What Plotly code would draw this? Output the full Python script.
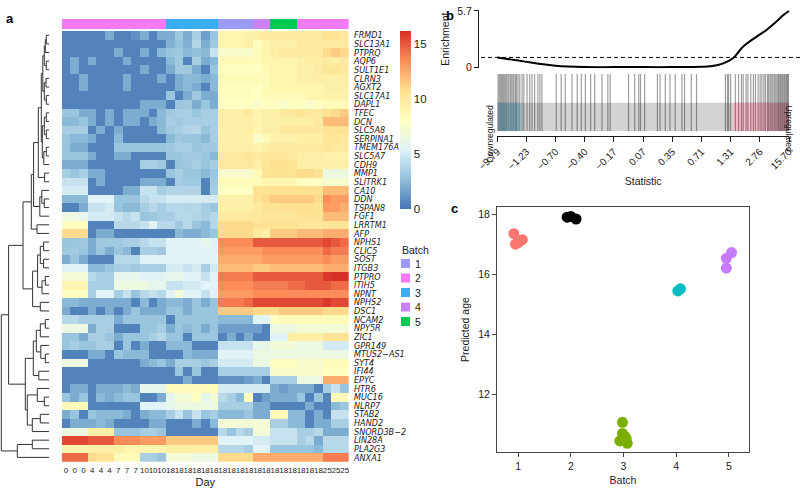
import plotly.graph_objects as go

# ---------------- data ----------------
genes = ['FRMD1', 'SLC13A1', 'PTPRQ', 'AQP6', 'SULT1E1', 'CLRN3', 'AGXT2', 'SLC17A1', 'DAPL1',
         'TFEC', 'DCN', 'SLC5A8', 'SERPINA1', 'TMEM176A', 'SLC5A7', 'CDH9', 'MMP1', 'SLITRK1',
         'CA10', 'DDN', 'TSPAN8', 'FGF1', 'LRRTM1', 'AFP', 'NPHS1', 'CLIC5', 'SOST', 'ITGB3',
         'PTPRO', 'ITIH5', 'NPNT', 'NPHS2', 'DSC1', 'NCAM2', 'NPY5R', 'ZIC1', 'GPR149',
         'MTUS2−AS1', 'SYT4', 'IFI44', 'EPYC', 'HTR6', 'MUC16', 'NLRP7', 'STAB2', 'HAND2',
         'SNORD3B−2', 'LIN28A', 'PLA2G3', 'ANXA1']

days = [0, 0, 0, 4, 4, 4, 7, 7, 7, 10, 10, 10, 18, 18, 18, 18, 18, 18,
        18, 18, 18, 18, 18, 18, 18, 18, 18, 18, 18, 18, 25, 25, 25]
col_batch = [2] * 12 + [3] * 6 + [1] * 4 + [4] * 2 + [5] * 3 + [2] * 6

expr = [
    [.5, .5, .5, .5, .5, 2, .5, .5, 1, 2, .5, 2, 2, 3.2, 2, 3.5, 1.5, 3, 9, 9, 9, 9.5, 9.5, 9.8, 9.8, 9.8, 10, 10, 10, 10, 10.5, 10.5, 10],
    [.5] * 12 + [2.2, 2.8, 2.2, 3.8, 2, 3.2, 9, 9, 9, 9.5, 8.3, 9, 9.5, 9.5, 9.5, 10, 10, 10, 10, 10, 10],
    [.5, .5, .5, .5, .5, .5, 2, .5, .5, 2, .5, 2.5, 3, 3.2, 2.5, 2.8, 2.5, 4.5, 7.5, 7.5, 7.5, 7.5, 8.5, 9, 9.5, 10, 10, 10, 10, 10, 11, 11.5, 11],
    [.5, 2, .5, 2, .5, .5, .5, 2, .5, .5, .5, .5, 2.5, 3.2, .5, 3.5, 2, 2.5, 8.5, 8.5, 8.5, 8.5, 8.5, 9, 9, 9, 9, 9.5, 9.5, 9.5, 9.8, 9.5, 10],
    [.5, 2, .5, .5, .5, .5, .5, .5, .5, 2, .5, .5, 2, 3.2, 3.2, 2, .5, 3, 8, 8, 8, 8, 7.8, 8.5, 9, 9, 9, 9.5, 9.5, 9.8, 10.3, 10.3, 10],
    [.5, .5, 2, .5, .5, .5, .5, 2, .5, .5, .5, 2, .5, 2, 2.5, 2.5, 2, 2.5, 8.5, 8.5, 8.5, 8.5, 8.5, 8.5, 9, 9, 9, 9.5, 9.5, 9.5, 9.5, 9.5, 9.5],
    [.5, .5, 2, .5, .5, .5, .5, 2, .5, .5, .5, .5, .5, 2, 2.5, 2, .5, 2.5, 8.3, 8.3, 8.3, 8.3, 8, 8.5, 9, 9, 9, 9, 9, 9, 9.5, 9.5, 9.5],
    [.5] * 12 + [3, .5, 2, 3.2, 2, 2, 8.3, 8.3, 8.3, 8.3, 8, 8.5, 8.5, 8.5, 8.5, 8.5, 9, 9, 9.3, 9.3, 9.3],
    [.5] * 9 + [2, 2, 2, .5, 3, 3.2, 2, 3, 2, 8, 8, 8, 8, 7.5, 8, 8, 7.5, 8, 8, 7.5, 8, 8.5, 8.5, 8.5],
    [3, 3, 2, 2, .5, 2, .5, 2, 2, 2, .5, 2.5, 3.2, 3.5, 3.5, 3, 3.5, 3.5, 9.5, 9.5, 9.5, 10, 9, 9.5, 9.5, 10, 10, 10.5, 10, 10, 10.5, 11, 11.5],
    [2.5, 2.5, 3, 2, .5, 2, .5, 2, 2, .5, 2, 2.5, 3.5, 3.2, 3.5, 3.5, 3.5, 3.5, 9.5, 9.5, 9.5, 9.5, 9, 9.5, 9.5, 9.5, 9.5, 9.5, 9.5, 10, 12, 12, 12],
    [3.5, 3.5, 3.5, .5, 2, .5, 2, .5, .5, .5, .5, 2.5, 3.2, 3.5, 3.8, 4, 3, 3.5, 9.5, 9.5, 9.5, 9.5, 9, 9.5, 9.5, 10, 10, 10, 10, 10, 10.5, 10.5, 10.5],
    [3, 2.5, 2.5, 2, .5, .5, 2.5, .5, .5, .5, .5, .5, 2.5, 3.2, 3, 3, 2.5, 3.5, 9.3, 9.3, 9.3, 9.3, 7.5, 8.5, 9.3, 9.3, 9.3, 9.5, 9.5, 9.5, 10.3, 10.3, 10],
    [3, 2, 2, .5, .5, .5, 3, 3, 3, 3, 3, 3, 3.2, 3.5, 3.5, 3, 3.2, 3.2, 9.5, 9.5, 9.5, 9.5, 9, 9.5, 9.8, 9.8, 9.8, 10, 10, 10, 10.3, 10, 10],
    [3, 3, 3, 2, .5, .5, 2, 2, .5, .5, .5, .5, 3, 3, 3.3, 3.3, 3, 2.5, 10, 10, 10, 10.3, 10, 10.3, 10.3, 10.3, 10, 9.5, 9.5, 9.5, 9.3, 9.3, 9.3],
    [2, 2, 2, .5, .5, .5, .5, .5, .5, 3.5, 3.5, 3.2, .5, 3, 3.2, 3.5, 3, 3.5, 10, 10, 10, 10, 9.5, 10.3, 10.8, 10.8, 10.5, 9.5, 9.5, 9.5, 9.5, 9.5, 9.5],
    [3.5, 3, 3.5, 2, 2, .5, .5, .5, .5, .5, .5, .5, 3, 3.5, 3, 3, 2.5, 3, 7.5, 7.5, 7.5, 7.5, 8.5, 10.5, 10.5, 10.5, 10.5, 11, 11, 10.5, 6.5, 6.5, 6.5],
    [4.5, 4.5, 4.5, .5, 2, .5, .5, .5, .5, 2, 2, 2, .5, 3.5, 3.2, 3.2, .5, 3.2, 8.5, 8.5, 8.5, 8.5, 8.5, 9, 9, 9, 9, 8, 8, 8, 7.5, 7.5, 7.5],
    [5, 5, 5, .5, .5, .5, .5, 2, 2, 4.5, 4.5, 3.5, 3.8, 3.8, 3.8, 3.8, .5, 3.5, 8, 8, 8, 8, 10.5, 10.5, 10.8, 10.8, 10.8, 10.8, 10.8, 10.8, 12, 12, 12],
    [2.5, 2.5, 2.5, 5.5, 5.5, 5.5, 3, 3, 3, 4, 4.5, 4.5, 5, 5, 5, 5, 5, 5, 9.5, 9.5, 9.5, 9.5, 10.5, 11, 11.5, 11.5, 11.5, 11.5, 11.5, 11, 13.5, 13, 13],
    [.5, .5, 2, 4.5, 4.5, 5, 3, 2.5, 2.5, 3.5, 4, 3.5, 4, 4, 3.8, 4, 3.5, 3, 9.5, 9.5, 9.5, 9.5, 10, 10.5, 10.5, 10.8, 10.8, 10.8, 10.8, 10.5, 13, 13, 12.5],
    [6.5, 6.5, 6, 5, 5, 5, 4.5, 4, 4.5, 3, 3.2, 3.5, 3.5, 4, 4, 3.8, 3.5, 4, 10, 10, 10, 10, 10, 10.3, 10.3, 10.3, 10.3, 10.5, 10.5, 10.5, 12, 12, 12],
    [8, 8, 8, .5, .5, .5, 4, 4, 4, 4.5, 5.5, 4, 4, 3.2, 4, 3, 2.5, 4, 11, 11, 11, 11, 10.5, 10.5, 10.5, 10.5, 10.5, 10.3, 10.3, 10.3, 10.3, 10.3, 10.3],
    [11, 11, 11, .5, 2, 2, .5, .5, .5, .5, .5, .5, .5, 2.5, 2, 2, 2.5, 3, 11, 11, 11, 11, 10, 9.5, 11.5, 11.5, 11.5, 12, 12, 12, 12.5, 12.5, 12.5],
    [3, 3, 3.2, 2, 3.2, 3.2, 3.2, 3.5, 3.5, 4, 4.5, 4.5, 5.5, 5.5, 5.5, 5.5, 6, 5.5, 13.5, 13.5, 13.5, 13.5, 15, 15, 15, 15, 15, 15, 15, 15, 15.5, 15, 14.5],
    [3.2, 3.2, 3, 2, 3, 2, 3, 2.5, .5, 3.5, 3.5, 3.2, 5.5, 5.5, 5.5, 5.5, 5.5, 5.5, 13, 13, 13, 13, 13, 13.5, 13.5, 13.5, 13.5, 13.5, 13.5, 13.5, 14.5, 14, 14],
    [2, 3, 2, .5, .5, .5, 4, 4, 4, 5.5, 5.5, 5.5, 5.5, 5.5, 5.5, 5.5, 5.5, 5.5, 12.5, 12.5, 12.5, 12.5, 12.5, 13, 13, 13, 13, 13, 13, 13, 13.5, 13, 13],
    [5.5, 5.5, 5.5, 2.5, 2.5, 3, 3.5, 3.5, 3.2, 3.5, 3.5, 3.5, 5, 5, 4.5, 5, 3.5, 5, 12, 12, 12, 12, 11.5, 11.5, 12, 12, 12, 12, 12, 12, 12.5, 12.5, 12.5],
    [7, 7, 7, 4, 3.5, 3.5, 6, 6, 6, 5.5, 5.5, 5.5, 6, 6, 5.5, 5.5, 4.5, 5.5, 14, 14, 14, 14, 15, 15, 15, 15, 15, 15, 15, 15, 16, 16.2, 16.2],
    [9, 9, 9, 3.5, 3.5, 3.5, 6.5, 6.5, 6.5, 6.5, 6, 6, 4.5, 4.5, 5, 5, 5.5, 5.5, 13.5, 13.5, 13.5, 13.5, 14, 14, 14, 14, 14.5, 14.5, 15, 15, 15, 14.5, 14.5],
    [8, 8, 8, 3.5, 5.5, 5.5, 3.5, 4.5, 3, 4, 4.5, 4, 5.5, 7, 5.5, 5.5, 4.5, 5.5, 13, 13, 13, 13, 13.5, 13.5, 13.5, 13.5, 13.5, 13.5, 13.5, 13.5, 13.5, 13.5, 13.5],
    [2.5, 2.5, 2, 2, 2, 2, 2, 2, .5, 2.5, .5, 2, 2.5, 2.5, 2, 3, 2, 3, 14, 14, 14, 14.5, 15.5, 15.5, 15.5, 15.5, 15.5, 15.5, 15.5, 15.5, 16, 15.5, 15.5],
    [2, .5, .5, 2, .5, 2, .5, 2, 3, 2, 2, 2, 3, 3, 2, 3, 3, 3, 11.5, 11.5, 11.5, 11.5, 11, 11, 11, 11.5, 11.5, 11.5, 11.5, 11.5, 11, 11, 11],
    [4, 4, 3.5, 3.5, 3.5, 3.5, 2, 3, 3, 3, 3, 3, .5, 3, 3, 3, 3, 3, 2.5, 2.5, 2.5, 2.5, 5.5, 5.5, 8, 8.5, 8.5, 8.5, 8.5, 8.5, 8.5, 8.5, 8.5],
    [6.5, 6.5, 6.5, 2, 3.5, 3.5, .5, .5, .5, 3, 3, 3.5, 2, 3, 2.5, 3, 2, 3, 1.5, 1.5, 1.5, 1.5, 1.5, .5, 6.5, 6.5, 6.5, 7, 7, 7, 7, 7, 7],
    [3, 3, 2, 3.5, 3.5, 3, 2, 3, 3, 3, 3.5, 4, 3, 3, .5, 3, 3, 3, .5, 2, .5, 2, .5, .5, 5.5, 5.5, 9.5, 9.5, 9.5, 9.5, 10.5, 10.5, 10.5],
    [3, 3.5, 3, 3, 3.5, 3.5, .5, 3, .5, 2, .5, .5, 2.5, 2.5, 2.5, .5, .5, .5, 4.5, 4.5, 4.5, 4.5, 6, 6, 7, 7, 7, 6.5, 6.5, 6.5, 5, 5, 5],
    [.5, .5, .5, 2, 2, .5, 3, 2.5, 2.5, 2.5, .5, .5, .5, .5, 2.5, 2, 2, 2, 5.5, 5.5, 5.5, 5.5, 6.5, 6.5, 6.5, 6.5, 6.5, 6.5, 6.5, 6.5, 6.5, 6.5, 6.5],
    [6.5, 6.5, 6.5, .5, .5, .5, .5, .5, .5, 2, 2.5, 3, 2, 3.5, 3.5, 3.5, 3, 3.5, 5, 5, 5, 5, 6.5, 6.5, 8, 8, 8, 7.5, 7.5, 7.5, 8.5, 8.5, 8.5],
    [.5] * 12 + [.5, 3, .5, 3, .5, .5, 3.5, 3.5, 3.5, 3.5, 3.5, 3.5, 7.5, 7.5, 7.5, 7.5, 7.5, 7.5, 8, 8, 8],
    [.5] * 12 + [.5, .5, 2, .5, .5, .5, 1, 1, 1, 1.5, 2, .5, 3.5, 3.5, 3.5, 6.5, 6.5, 6.5, 12.5, 12.5, 12.5],
    [.5, 2, 2, .5, 2, 2, 2, 2.5, 2, 6, 6, 6, 8.5, 8.5, 8.5, 8.5, 8.5, 8.5, 5, 5, 5, 5, 5, 5, 2, 1.5, 2, 2, 2, .5, 3.5, 4.5, 3],
    [3, 2, 3, .5, 2.5, 2, 2.5, 3, 3, .5, .5, 2, 6, 7, 7, 8, 6, 7, 4, 3.5, 2.5, 8, .5, 1.5, 2, 2, 2, 3, .5, 3, .5, 8.5, 8.5],
    [8.5, 8.5, 8.5, .5, .5, .5, .5, .5, .5, 5.5, 5.5, 5.5, 6, 6.5, 6.5, 6.5, 6.5, 6.5, 3.5, 3.5, 3.5, 3.5, 2, 2, .5, .5, .5, .5, 2, .5, .5, 2.5, 3],
    [2, 3, .5, 3, 2.5, 2.5, 2.5, 2, .5, 2, 2.5, 2.5, 3.5, 4.5, 3, 4.5, 3, 3.5, 2.5, 2.5, 2.5, 3, 2, 2, 8.5, 8.5, 2.5, 2.5, .5, 2, .5, 4.5, 4.5],
    [.5, 2, 2, 2, 2.5, 2, .5, .5, .5, .5, 2, 2, .5, .5, .5, 2, .5, 2.5, 7, 7, 7, 7, 7, 7, 3.5, 3.5, 2.5, 2.5, .5, 2, 2, 3.5, 3.5],
    [6.5, 6.5, 6.5, 9.5, 9.5, 9.5, 3, 3, 3, 3.5, 3.5, 3, .5, .5, .5, .5, .5, .5, 4, 3, 4, 3.5, 7, 7, 4.5, 4.5, 4.5, 3.5, 3.5, 4, 2, 2, 2],
    [15.5, 15.5, 15.5, 15, 15, 15, 13.5, 13.5, 13.5, 13, 13, 13, 11.5, 11.5, 11.5, 11.5, 11.5, 11.5, 5.5, 5.5, 5.5, 5.5, 5, 5, 4.5, 4.5, 4.5, 3.5, 4, 2, 4, 4, 4],
    [9, 9, 9, 9.5, 9.5, 9.5, 9.5, 9, 9, 9, 9, 9, 9.5, 9.5, 9.5, 9.5, 9.5, 9.5, 4, 4, 4, 3.5, 5.5, 5.5, 3, 3, 3, 3, 3, 2.5, 4, 4, 4],
    [14.5, 14.5, 14.5, 11, 10.5, 10.5, 8.5, 8.5, 8.5, 3.5, 3.5, 3, 7, 7, 7, 6.5, 6.5, 6.5, 11, 11, 11, 11, 12.5, 12.5, 12.5, 12.5, 12.5, 12.5, 12.5, 12.5, 14, 14, 14],
]

# row dendrogram: [height, left, right], leaves are row indices
t0_4 = [5, [4, [3, 0, 1], 2], [3, 3, 4]]
t5_8 = [5, [3.3, 5, 6], [3, 7, 8]]
t9_15 = [7, [5, [3, 9, 10], [3, 11, 12]], [5.5, [3, 13, 14], 15]]
t0_17 = [11, [8, [6.5, t0_4, t5_8], t9_15], [4.7, 16, 17]]
t0_23 = [18, [15.7, t0_17, [9.5, [7.5, 18, [5, 19, 20]], 21]], [12.3, 22, 23]]
t24_32 = [16.7, [11.7, [9, [5.7, 24, 25], [5.7, 26, 27]], [7.3, [4, 28, 29], 30]], [9, 31, 32]]
t33_40 = [16, [13, [9, [4, 33, 34], 35], [8.5, 36, [4, 37, 38]]], [10.5, 39, 40]]
t41_46 = [22, [12, 41, [5, 42, 43]], [17, [9, 44, 45], 46]]
row_tree = [48, [40.7, [26.3, t0_23, t24_32], [24, t33_40, t41_46]], [32, [17, 47, 48], 49]]

batches = [1, 2, 3, 4, 5]
batch_colors = ['#9C9CF6', '#F57BF5', '#38AEF7', '#C983F2', '#00C853']

# panel b: barcode / enrichment (x in decile units of the ranked statistic)
stat_ticks = ['−9.79', '−1.23', '−0.70', '−0.40', '−0.17', '0.07', '0.35', '0.71', '1.31', '2.76', '15.70']
worm_x = [0, 0.9, 2.0, 3.0, 4, 5, 6, 7, 7.3, 7.7, 8.08, 8.43, 8.89, 9.24, 9.58, 9.81, 10.0]
worm_y = [1.0, 0.6, 0.17, 0.03, 0.02, 0.02, 0.02, 0.05, 0.1, 0.35, 0.92, 2.1, 3.1, 3.8, 4.65, 5.3, 5.7]
set_ranks = [0.02, 0.06, 0.10, 0.14, 0.18, 0.22, 0.26, 0.30, 0.34, 0.39, 0.44, 0.48, 0.53, 0.57, 0.62,
             0.66, 0.71, 0.77, 0.85, 0.91, 1.02, 1.11, 1.19, 1.28, 1.39, 1.46, 1.53, 2.02, 2.19, 2.33,
             2.56, 2.74, 2.88, 3.02, 3.20, 3.34, 3.59, 3.79, 3.87, 4.50, 4.71, 4.85, 4.91, 5.05, 5.49,
             5.58, 5.76, 5.92, 6.10, 6.33, 6.42, 6.65, 6.83, 7.82, 7.89, 7.93, 8.0, 8.16, 8.27, 8.37,
             8.43, 8.53, 8.59, 8.69, 8.78, 8.85, 8.94, 9.01, 9.07, 9.14, 9.19, 9.26, 9.30, 9.35, 9.39,
             9.44, 9.49, 9.53, 9.58, 9.62, 9.65, 9.69, 9.72, 9.76, 9.79, 9.83, 9.86, 9.90, 9.93, 9.96, 9.99]
down_q = 0.82
up_q = 8.08

# panel c: predicted age per batch
age_batch = [1, 1, 1, 1, 2, 2, 2, 3, 3, 3, 3, 3, 3, 4, 4, 5, 5, 5]
age_jitter = [0.92, 1.08, 0.95, 1.0, 1.93, 2.0, 2.1, 2.98, 2.98, 3.05, 2.93, 3.07, 3.02, 4.03, 4.08, 4.95, 4.95, 5.05]
age_pred = [17.35, 17.15, 17.0, 17.05, 17.9, 17.92, 17.84, 11.06, 10.69, 10.52, 10.44, 10.36, 10.6, 15.44, 15.51, 16.2, 16.53, 16.72]
age_colors = ['#F8766D', '#000000', '#7CAE00', '#00BFC4', '#C77CFF']

# ---------------- figure ----------------
W, H = 800, 488
FONT = 'Liberation Sans, Arial, sans-serif'
INK = '#1a1a1a'


def px_x(p):
    return p / W


def px_y(p):
    return 1 - p / H


rdylbu = ['#4575B4', '#91BFDB', '#E0F3F8', '#FFFFBF', '#FEE090', '#FC8D59', '#D73027']
cscale = [[i / 6, c] for i, c in enumerate(rdylbu)]

fig = go.Figure()

fig.add_trace(go.Heatmap(
    z=expr, x=list(range(len(days))), y=list(range(len(genes))),
    colorscale=cscale, zmin=0, zmax=16.2, xaxis='x', yaxis='y',
    colorbar=dict(x=px_x(399.5), xanchor='left', xpad=0, y=px_y(31), yanchor='top', ypad=0,
                  len=178 / H, lenmode='fraction', thickness=11, outlinewidth=0,
                  tickvals=[0, 5, 10, 15], ticks='', tickfont=dict(size=11.5, color=INK, family=FONT)),
    hoverinfo='skip'))

# batch annotation bar
bscale = []
for i, c in enumerate(batch_colors):
    bscale += [[i / 5, c], [(i + 1) / 5, c]]
fig.add_trace(go.Heatmap(z=[col_batch], x=list(range(len(days))), y=[0], colorscale=bscale,
                         zmin=0.5, zmax=5.5, showscale=False, xaxis='x3', yaxis='y3', hoverinfo='skip'))


# dendrogram segments from the tree
def walk(node, xs, ys):
    if isinstance(node, int):
        return float(node), 0.0
    h, left, right = node
    yl, hl = walk(left, xs, ys)
    yr, hr = walk(right, xs, ys)
    xs += [hl, h, h, hr, None]
    ys += [yl, yl, yr, yr, None]
    return (yl + yr) / 2, h


dx, dy = [], []
walk(row_tree, dx, dy)
fig.add_trace(go.Scatter(x=dx, y=dy, mode='lines', line=dict(color='#333333', width=1),
                         xaxis='x2', yaxis='y', showlegend=False, hoverinfo='skip'))

# enrichment worm
fig.add_trace(go.Scatter(x=worm_x, y=worm_y, mode='lines', line=dict(color='black', width=2, shape='spline'),
                         xaxis='x4', yaxis='y4', showlegend=False, hoverinfo='skip'))
fig.add_shape(type='line', xref='x4 domain', yref='y4', x0=0, x1=1, y0=1, y1=1,
              line=dict(color='black', width=1, dash='4px,3px'))

# barcode background and bars
fig.add_shape(type='rect', xref='x5', yref='y5', x0=0, x1=10, y0=0, y1=0.5,
              fillcolor='#D3D3D3', line_width=0, layer='below')
fig.add_shape(type='rect', xref='x5', yref='y5', x0=0, x1=down_q, y0=0, y1=0.5,
              fillcolor='#A9D9EA', line_width=0, layer='below')
fig.add_shape(type='rect', xref='x5', yref='y5', x0=up_q, x1=10, y0=0, y1=0.5,
              fillcolor='#F8B8C8', line_width=0, layer='below')
for r in set_ranks:
    fig.add_shape(type='line', xref='x5', yref='y5', x0=r, x1=r, y0=0, y1=1,
                  line=dict(color='rgba(0,0,0,0.38)', width=1.2))
fig.add_trace(go.Scatter(x=[0, 10], y=[0, 0], mode='markers', marker=dict(opacity=0),
                         xaxis='x5', yaxis='y5', showlegend=False, hoverinfo='skip'))

# predicted age scatter
for b, col in zip(batches, age_colors):
    xs = [j for j, bb in zip(age_jitter, age_batch) if bb == b]
    ys = [a for a, bb in zip(age_pred, age_batch) if bb == b]
    fig.add_trace(go.Scatter(x=xs, y=ys, mode='markers', marker=dict(color=col, size=11, line_width=0),
                             xaxis='x6', yaxis='y6', showlegend=False, hoverinfo='skip'))

tickf = dict(family=FONT, size=10.5, color=INK)
hidden = dict(visible=False, showgrid=False, zeroline=False, automargin=False)

fig.update_layout(
    width=W, height=H, margin=dict(l=0, r=0, t=0, b=0, autoexpand=False),
    paper_bgcolor='white', plot_bgcolor='white',
    font=dict(family=FONT, color=INK),
    xaxis=dict(domain=[px_x(61.7), px_x(349)], range=[-0.5, 32.5], anchor='y', automargin=False,
               tickvals=list(range(len(days))), ticktext=[str(d) for d in days],
               tickangle=0, tickfont=dict(family=FONT, size=8, color=INK), ticks='', ticklabelstandoff=2,
               showgrid=False, zeroline=False,
               title=dict(text='Day', font=dict(family=FONT, size=11, color=INK), standoff=4)),
    yaxis=dict(domain=[px_y(461.7), px_y(31)], range=[len(genes) - 0.5, -0.5], anchor='x', side='right',
               tickvals=list(range(len(genes))), ticktext=['<i>%s</i>' % g for g in genes],
               tickfont=dict(family='Liberation Sans Narrow, DejaVu Sans Condensed, sans-serif', size=9, color=INK),
               ticks='', ticklabelstandoff=4, showgrid=False, zeroline=False, automargin=False),
    xaxis2=dict(domain=[0, px_x(49.3)], range=[49.3, 0], anchor='y', **hidden),
    xaxis3=dict(domain=[px_x(61.7), px_x(349)], range=[-0.5, 32.5], anchor='y3', **hidden),
    yaxis3=dict(domain=[px_y(29), px_y(19)], range=[-0.5, 0.5], anchor='x3', **hidden),
    xaxis4=dict(domain=[px_x(481), 1], range=[-0.559, 10.377], anchor='y4', **hidden),
    yaxis4=dict(domain=[px_y(68.3), px_y(10)], range=[-0.1, 5.8], anchor='free', position=px_x(478),
                tickvals=[0, 5.7], ticktext=['0', '5.7'], ticks='outside', ticklen=4, tickcolor=INK,
                showline=True, linecolor=INK, linewidth=1, showgrid=False, zeroline=False, tickfont=tickf,
                automargin=False, title=dict(text='Enrichment', font=tickf, standoff=4)),
    xaxis5=dict(domain=[px_x(497.3), px_x(789)], range=[0, 10], anchor='free', position=px_y(136),
                tickvals=list(range(11)), ticktext=stat_ticks, tickangle=-45, ticks='outside', ticklen=5,
                tickcolor=INK, showline=True, linecolor=INK, linewidth=1, showgrid=False, zeroline=False,
                tickfont=dict(family=FONT, size=10, color=INK), automargin=False,
                title=dict(text='Statistic', font=tickf, standoff=6)),
    yaxis5=dict(domain=[px_y(131.3), px_y(74)], range=[0, 1], anchor='x5', **hidden),
    xaxis6=dict(domain=[px_x(497), px_x(749)], range=[0.6, 5.38], anchor='y6', automargin=False,
                tickvals=batches, ticks='outside', ticklen=4, tickcolor='#444', showline=True, mirror=True,
                linecolor='#444', linewidth=1, showgrid=False, zeroline=False, tickfont=tickf,
                title=dict(text='Batch', font=tickf, standoff=6)),
    yaxis6=dict(domain=[px_y(452), px_y(207)], range=[10.07, 18.24], anchor='x6', automargin=False,
                tickvals=[12, 14, 16, 18], ticks='outside', ticklen=4, tickcolor='#444', showline=True,
                mirror=True, linecolor='#444', linewidth=1, showgrid=False, zeroline=False, tickfont=tickf,
                title=dict(text='Predicted age', font=tickf, standoff=6)),
)

# barcode side labels
fig.add_annotation(x=px_x(489), y=px_y(103), xref='paper', yref='paper', text='Downregulated',
                   textangle=-90, showarrow=False, font=dict(family=FONT, size=8.5, color=INK))
fig.add_annotation(x=px_x(796), y=px_y(103), xref='paper', yref='paper', text='Upregulated',
                   textangle=90, showarrow=False, font=dict(family=FONT, size=8.5, color=INK))

# batch legend
fig.add_annotation(x=px_x(400), y=px_y(250), xref='paper', yref='paper', text='Batch', xanchor='left',
                   showarrow=False, font=dict(family=FONT, size=10.5, color=INK))
for i, (b, c) in enumerate(zip(batches, batch_colors)):
    top = 259 + 14.5 * i
    fig.add_shape(type='rect', xref='paper', yref='paper', x0=px_x(401), x1=px_x(410),
                  y0=px_y(top + 9), y1=px_y(top), fillcolor=c, line_width=0)
    fig.add_annotation(x=px_x(413), y=px_y(top + 4.5), xref='paper', yref='paper', text=str(b),
                       xanchor='left', showarrow=False, font=dict(family=FONT, size=10.5, color=INK))

# panel letters
for letter, lx, ly in [('a', 4, 9), ('b', 444, 6), ('c', 449, 208)]:
    fig.add_annotation(x=px_x(lx), y=px_y(ly), xref='paper', yref='paper', text='<b>%s</b>' % letter,
                       xanchor='left', showarrow=False, font=dict(family=FONT, size=13, color='black'))

fig.write_html('out.html', config={'displayModeBar': False},
               post_script="document.body.style.margin='0px';")
